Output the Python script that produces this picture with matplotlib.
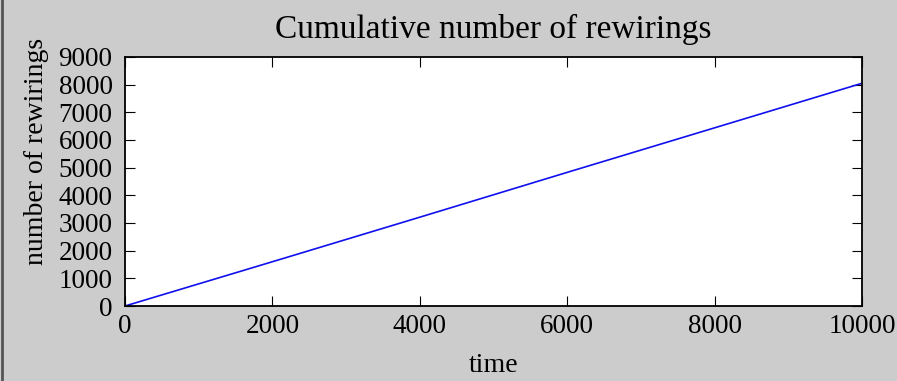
import matplotlib
matplotlib.use("Agg")
import matplotlib.pyplot as plt
from matplotlib.lines import Line2D

time = [0, 2000, 4000, 6000, 8000, 10000]
rewirings = [0, 1600, 3210, 4830, 6440, 8050]
xticks = [0, 2000, 4000, 6000, 8000, 10000]
yticks = [0, 1000, 2000, 3000, 4000, 5000, 6000, 7000, 8000, 9000]

plt.rcParams['font.family'] = ['Liberation Serif', 'DejaVu Serif']

fig = plt.figure(figsize=(8.97, 3.81), dpi=100, facecolor='#cccccc')
ax = fig.add_axes([125/897, 1-306/381, (862-125)/897, (306-57)/381])
ax.plot(time, rewirings, color='#1010ee', lw=1.2)
ax.set_xlim(0, 10000)
ax.set_ylim(0, 9000)
ax.set_xticks(xticks)
ax.set_yticks(yticks)
ax.tick_params(direction='in', top=True, right=True, length=7.5, width=0.8, labelsize=19.5)
ax.tick_params(axis='y', pad=9)
ax.tick_params(axis='x', pad=6)
for s in ax.spines.values():
    s.set_linewidth(1.3)
ax.set_title('Cumulative number of rewirings', fontsize=24, pad=14)
ax.set_xlabel('time', fontsize=20, labelpad=10)
ax.set_ylabel('number of rewirings', fontsize=20)
ax.yaxis.set_label_coords(-0.103, 0.62)
fig.add_artist(Line2D([2/897, 2/897], [0, 1], color='#555555', lw=2, transform=fig.transFigure))
fig.savefig('out.png', dpi=100, facecolor=fig.get_facecolor())
